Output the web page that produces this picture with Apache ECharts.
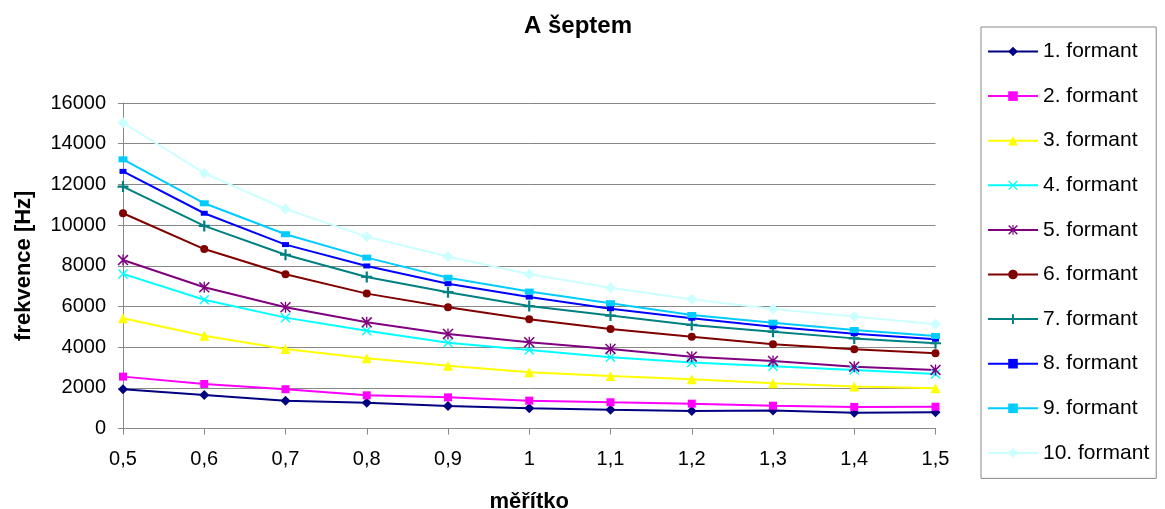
<!DOCTYPE html>
<html>
<head>
<meta charset="utf-8">
<script src="https://cdn.jsdelivr.net/npm/echarts@6/dist/echarts.min.js"></script>
<style>
html,body{margin:0;padding:0;background:#fff;}
#chart{width:1165px;height:509px;}
</style>
</head>
<body>
<div id="chart"></div>
<script>
var categories = ['0,5','0,6','0,7','0,8','0,9','1','1,1','1,2','1,3','1,4','1,5'];
var seriesNames = ['1. formant','2. formant','3. formant','4. formant','5. formant','6. formant','7. formant','8. formant','9. formant','10. formant'];
var f1 = [1930, 1650, 1370, 1270, 1100, 1000, 920, 860, 880, 770, 800];
var f2 = [2550, 2190, 1930, 1630, 1530, 1370, 1290, 1220, 1120, 1060, 1070];
var f3 = [5420, 4560, 3910, 3450, 3090, 2760, 2580, 2420, 2220, 2060, 1980];
var f4 = [7600, 6330, 5450, 4810, 4220, 3860, 3500, 3240, 3060, 2880, 2680];
var f5 = [8280, 6940, 5960, 5220, 4650, 4240, 3910, 3530, 3320, 3040, 2880];
var f6 = [10580, 8820, 7580, 6630, 5960, 5370, 4890, 4510, 4140, 3890, 3700];
var f7 = [11890, 9960, 8540, 7450, 6700, 6020, 5550, 5090, 4760, 4430, 4190];
var f8 = [12640, 10580, 9040, 7990, 7120, 6460, 5890, 5420, 5000, 4660, 4390];
var f9 = [13230, 11070, 9550, 8400, 7410, 6730, 6160, 5580, 5200, 4840, 4550];
var f10 = [15030, 12550, 10790, 9430, 8450, 7580, 6920, 6350, 5870, 5500, 5120];
var yTicks = [0, 2000, 4000, 6000, 8000, 10000, 12000, 14000, 16000];

var allData = [f1, f2, f3, f4, f5, f6, f7, f8, f9, f10];
var colors = ['#000080','#FF00FF','#FFFF00','#00FFFF','#800080','#800000','#008080','#0000FF','#00CCFF','#CCFFFF'];
var xPath = 'path://M0,1L1,0L10,9L9,10Z M9,0L10,1L1,10L0,9Z';
var starPath = 'path://M0,1L1,0L10,9L9,10Z M9,0L10,1L1,10L0,9Z M4.4,0L5.6,0L5.6,10L4.4,10Z';
var plusPath = 'path://M4,0L6,0L6,4L10,4L10,6L6,6L6,10L4,10L4,6L0,6L0,4L4,4Z';
var symbols = ['diamond','rect','triangle',xPath,starPath,'circle',plusPath,'rect','rect','diamond'];
var symbolSizes = [10, 8, 10, 10, 11, 8, 11, [7,5], [9,6], 11];

var font = "'Liberation Sans', Arial, sans-serif";
var series = allData.map(function (d, i) {
  return {
    name: seriesNames[i],
    type: 'line',
    data: d,
    symbol: symbols[i],
    symbolSize: symbolSizes[i],
    showAllSymbol: true,
    lineStyle: { color: colors[i], width: 2 },
    itemStyle: { color: colors[i] },
    animation: false
  };
});

var chart = echarts.init(document.getElementById('chart'), null, {renderer: 'canvas'});
chart.setOption({
  backgroundColor: '#ffffff',
  animation: false,
  title: {
    text: 'A šeptem',
    left: 573, top: 9, textAlign: 'center',
    textStyle: { fontFamily: font, fontSize: 24, fontWeight: 'bold', color: '#000' }
  },
  legend: {
    orient: 'vertical',
    left: 981, top: 27,
    padding: [14, 7, 15, 6],
    borderColor: '#888', borderWidth: 1,
    itemWidth: 50, itemHeight: 12, itemGap: 23.6,
    textStyle: { fontFamily: font, fontSize: 21, color: '#000', lineHeight: 20 },
    data: seriesNames
  },
  grid: { left: 123, right: 229.5, top: 103, bottom: 80.5, containLabel: false, outerBoundsMode: 'none' },
  xAxis: {
    type: 'category',
    data: categories,
    boundaryGap: false,
    name: 'měřítko',
    nameLocation: 'middle',
    nameGap: 62,
    nameTextStyle: { fontFamily: font, fontSize: 22, fontWeight: 'bold', color: '#000' },
    axisLine: { lineStyle: { color: '#888', width: 1 } },
    axisTick: { show: true, length: 6, lineStyle: { color: '#888' } },
    axisLabel: { fontFamily: font, fontSize: 20, color: '#000', margin: 21 },
    splitLine: { show: false }
  },
  yAxis: {
    type: 'value',
    min: yTicks[0], max: yTicks[yTicks.length - 1], interval: yTicks[1] - yTicks[0],
    name: 'frekvence [Hz]',
    nameLocation: 'middle',
    nameGap: 88,
    nameTextStyle: { fontFamily: font, fontSize: 22, fontWeight: 'bold', color: '#000' },
    axisLine: { show: true, lineStyle: { color: '#888', width: 1 } },
    axisTick: { show: true, length: 5, lineStyle: { color: '#888' } },
    axisLabel: { fontFamily: font, fontSize: 20, color: '#000', margin: 17,
      formatter: function (v) { return String(v); } },
    splitLine: { show: true, lineStyle: { color: '#888', width: 1 } }
  },
  series: series
});
</script>
</body>
</html>
